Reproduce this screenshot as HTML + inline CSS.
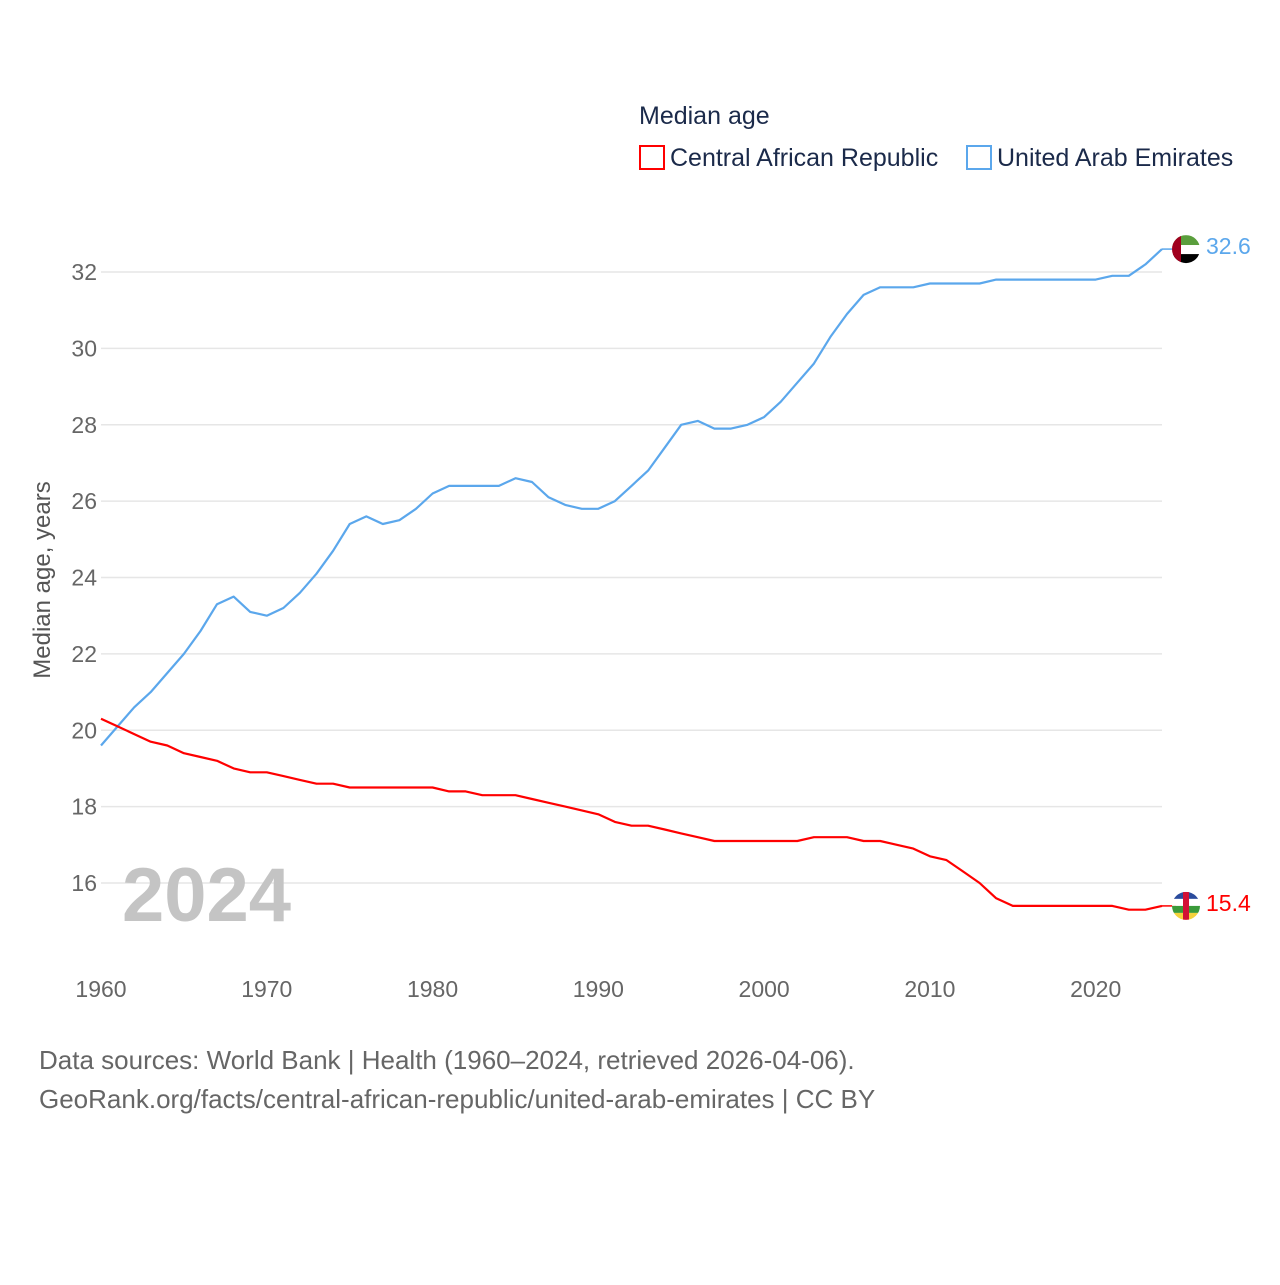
<!DOCTYPE html>
<html><head><meta charset="utf-8"><style>
body{margin:0;background:#fff;}
svg text{font-family:"Liberation Sans",sans-serif;}
</style></head><body>
<svg id="chart" width="1280" height="1280" xmlns="http://www.w3.org/2000/svg">
<text x="639" y="124" font-size="25" fill="#1b2a4a">Median age</text>
<g><rect x="640" y="146" width="24" height="23" fill="none" stroke="#ff0000" stroke-width="2"/><text x="670" y="166" font-size="25" fill="#1b2a4a">Central African Republic</text></g>
<g><rect x="967" y="146" width="24" height="23" fill="none" stroke="#5ba7ec" stroke-width="2"/><text x="997" y="166" font-size="25" fill="#1b2a4a">United Arab Emirates</text></g>
<g id="grid"></g>
<g id="yticks"></g>
<g id="xticks"></g>
<text transform="translate(50,580) rotate(-90)" text-anchor="middle" font-size="24" fill="#555">Median age, years</text>
<text x="122" y="921" font-size="76" font-weight="bold" fill="#c4c4c4">2024</text>
<g id="series"></g>
<text x="39" y="1069" font-size="26" fill="#666">Data sources: World Bank | Health (1960–2024, retrieved 2026-04-06).</text>
<text x="39" y="1108" font-size="26" fill="#666">GeoRank.org/facts/central-african-republic/united-arab-emirates | CC BY</text>
</svg>
<script>
const years=[];for(let y=1960;y<=2024;y++)years.push(y);
const uae=[19.6,20.1,20.6,21.0,21.5,22.0,22.6,23.3,23.5,23.1,23.0,23.2,23.6,24.1,24.7,25.4,25.6,25.4,25.5,25.8,26.2,26.4,26.4,26.4,26.4,26.6,26.5,26.1,25.9,25.8,25.8,26.0,26.4,26.8,27.4,28.0,28.1,27.9,27.9,28.0,28.2,28.6,29.1,29.6,30.3,30.9,31.4,31.6,31.6,31.6,31.7,31.7,31.7,31.7,31.8,31.8,31.8,31.8,31.8,31.8,31.8,31.9,31.9,32.2,32.6];
const caf=[20.3,20.1,19.9,19.7,19.6,19.4,19.3,19.2,19.0,18.9,18.9,18.8,18.7,18.6,18.6,18.5,18.5,18.5,18.5,18.5,18.5,18.4,18.4,18.3,18.3,18.3,18.2,18.1,18.0,17.9,17.8,17.6,17.5,17.5,17.4,17.3,17.2,17.1,17.1,17.1,17.1,17.1,17.1,17.2,17.2,17.2,17.1,17.1,17.0,16.9,16.7,16.6,16.3,16.0,15.6,15.4,15.4,15.4,15.4,15.4,15.4,15.4,15.3,15.3,15.4];
const yTicks=[16,18,20,22,24,26,28,30,32];
const xTicks=[1960,1970,1980,1990,2000,2010,2020];
const NS="http://www.w3.org/2000/svg";
const X=y=>101+(y-1960)*(1162-101)/64;
const Y=v=>883-(v-16)*(883-272)/16;
function mk(tag,attrs,parent){const e=document.createElementNS(NS,tag);for(const k in attrs)e.setAttribute(k,attrs[k]);parent.appendChild(e);return e;}
const grid=document.getElementById('grid'),yt=document.getElementById('yticks'),xt=document.getElementById('xticks'),ser=document.getElementById('series');
yTicks.forEach(v=>{
 const l=mk('line',{x1:101,x2:1162,y1:Y(v),y2:Y(v),stroke:'#e6e6e6','stroke-width':1.5},grid);
 
 
 const t=mk('text',{x:97,y:Y(v)+8,'text-anchor':'end','font-size':23,fill:'#666'},yt);t.textContent=v;
 
 
});
xTicks.forEach(v=>{
 const t=mk('text',{x:X(v),y:997,'text-anchor':'middle','font-size':23,fill:'#666'},xt);t.textContent=v;
 
 
});
function line(vals,color,name){
 const d=vals.map((v,i)=>(i?'L':'M')+X(years[i]).toFixed(1)+','+Y(v).toFixed(1)).join('');
 const p=mk('path',{d:d,fill:'none',stroke:color,'stroke-width':2.2,'stroke-linejoin':'round'},ser);
 
 
 const last=vals[vals.length-1],ly=Y(last);
 mk('line',{x1:X(2024),x2:1176,y1:ly,y2:ly,stroke:color,'stroke-width':1.5},ser);
 return ly;
}
const uy=line(uae,'#5ba7ec','line-uae');
const cy=line(caf,'#ff0000','line-caf');
const fu=mk('g',{},ser);


const cpu=mk('clipPath',{id:'cu'},fu);mk('circle',{cx:1186,cy:uy,r:14},cpu);
const gu=mk('g',{'clip-path':'url(#cu)'},fu);
mk('rect',{x:1172,y:uy-14,width:28,height:10,fill:'#5a9e3c'},gu);
mk('rect',{x:1172,y:uy-4,width:28,height:9,fill:'#fff'},gu);
mk('rect',{x:1172,y:uy+5,width:28,height:10,fill:'#000'},gu);
mk('rect',{x:1172,y:uy-14,width:9,height:28,fill:'#a0001e'},gu);
const tu=mk('text',{x:1206,y:uy+5,'font-size':23,fill:'#5ba7ec'},ser);tu.textContent=uae[uae.length-1].toFixed(1);


const fc=mk('g',{},ser);


const cp=mk('clipPath',{id:'cc'},fc);mk('circle',{cx:1186,cy:cy,r:14},cp);
const gc=mk('g',{'clip-path':'url(#cc)'},fc);
['#2a4b9c','#fff','#3a9a3a','#f4d23c'].forEach((c,i)=>mk('rect',{x:1172,y:cy-14+i*7,width:28,height:7,fill:c},gc));
mk('rect',{x:1183,y:cy-14,width:6,height:28,fill:'#d21034'},gc);
const tc=mk('text',{x:1206,y:cy+5,'font-size':23,fill:'#ff0000'},ser);tc.textContent=caf[caf.length-1].toFixed(1);


</script>
</body></html>
